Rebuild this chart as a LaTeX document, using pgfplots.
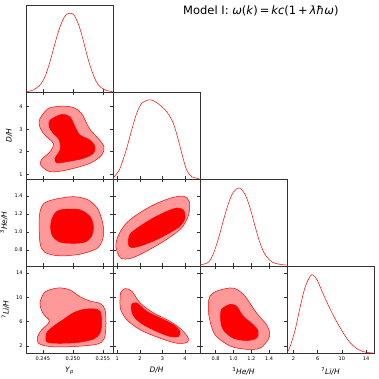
\documentclass[border=0pt]{standalone}
\usepackage{fontspec}
\setmainfont{DejaVu Sans}
\usepackage{pgfplots}
\pgfplotsset{compat=1.18}
\definecolor{cred}{HTML}{FF0000}
\definecolor{clight}{HTML}{FF9999}
\definecolor{frame}{HTML}{333333}
\pgfplotsset{
  corner/.style={scale only axis, width=87pt, height=87pt, anchor=north west,
    axis line style={draw=frame, line width=0.7pt},
    tick style={draw=frame, line width=0.5pt},
    major tick length=2.8pt, tick align=inside,
    tick label style={font=\fontsize{5}{6}\selectfont},
    /pgf/number format/assume math mode=true,
    label style={font=\fontsize{7.5}{8}\selectfont},
    xticklabels={}, yticklabels={},
  },
  diag/.style={corner, ymin=0, ymax=87, ytick=\empty, xtick pos=left},
  c95/.style={fill=clight, draw=cred, line width=0.5pt, smooth cycle},
  c68/.style={fill=cred, draw=cred, line width=0.5pt, smooth cycle},
  pdf/.style={draw=cred, line width=0.5pt, smooth, no marks},
  colYp/.style={xmin=0.2422, xmax=0.2567, xtick={0.245,0.25,0.255}},
  colD/.style={xmin=0.81, xmax=4.66, xtick={1,2,3,4}},
  colHe/.style={xmin=0.625, xmax=1.6, xtick={0.8,1.0,1.2,1.4}},
  colLi/.style={xmin=0.95, xmax=15.3, xtick={2,6,10,14}},
  rowD/.style={ymin=0.79, ymax=4.65, ytick={1,2,3,4}},
  rowHe/.style={ymin=0.62, ymax=1.59, ytick={0.8,1.0,1.2,1.4}},
  rowLi/.style={ymin=0.83, ymax=15.17, ytick={2,6,10,14}},
}
\begin{document}
\begin{tikzpicture}
\path[use as bounding box] (0,0) rectangle (378pt,379pt);

% ---- diagonal: Yp
\begin{axis}[diag, colYp, at={(26pt,374pt)}]
\addplot[pdf] coordinates {(0.24231,0.33) (0.24342,2) (0.24453,7) (0.24537,15.3) (0.2462,30.3) (0.24703,48.7) (0.24787,65.3) (0.2487,76) (0.24942,78.7) (0.2502,77) (0.25109,65.3) (0.25187,48.7) (0.25259,32) (0.25342,17) (0.25426,7) (0.25537,2) (0.25664,0.33)};
\end{axis}

% ---- Yp vs D/H
\begin{axis}[corner, colYp, rowD, at={(26pt,287pt)}, yticklabels={1,2,3,4}, ylabel={\textit{D/H}}]
\addplot[c95] coordinates {(0.24453,3.476) (0.24442,3.179) (0.24508,2.812) (0.24675,2.370) (0.2462,1.998) (0.24482,1.662) (0.24465,1.409) (0.2462,1.113) (0.24898,1.188) (0.25287,1.485) (0.25482,1.852) (0.2552,2.219) (0.25425,2.591) (0.25275,3.033) (0.25148,3.697) (0.25008,3.963) (0.24815,4.020) (0.24592,3.918)};
\addplot[c68] coordinates {(0.2462,3.400) (0.24815,3.653) (0.24953,3.547) (0.25037,3.104) (0.2512,2.737) (0.25287,2.516) (0.2537,2.219) (0.25342,1.927) (0.25175,1.706) (0.24898,1.556) (0.24732,1.511) (0.24703,1.706) (0.24787,2.073) (0.24775,2.516) (0.24675,2.812) (0.24608,3.104)};
\end{axis}

% ---- diagonal: D/H
\begin{axis}[diag, colD, at={(113pt,287pt)}]
\addplot[pdf] coordinates {(0.81,0.3) (0.869,2.33) (1.12,10.67) (1.415,30.67) (1.636,49) (1.857,65.67) (2.079,75.67) (2.373,79) (2.595,78.33) (2.89,74) (3.185,67.33) (3.48,55.67) (3.70,39) (3.893,22.33) (4.07,9) (4.29,2.33) (4.62,0.3)};
\end{axis}

% ---- Yp vs 3He/H
\begin{axis}[corner, colYp, rowHe, at={(26pt,200pt)}, yticklabels={0.8,1.0,1.2,1.4}, ylabel={\textsuperscript{3}\textit{He/H}}]
\addplot[c95] coordinates {(0.24442,1.173) (0.24509,1.312) (0.24703,1.364) (0.25009,1.393) (0.25259,1.356) (0.25425,1.246) (0.25509,1.063) (0.25498,0.917) (0.25398,0.814) (0.2512,0.752) (0.24787,0.733) (0.24537,0.770) (0.24453,0.880)};
\addplot[c68] coordinates {(0.24648,1.136) (0.24731,1.228) (0.24898,1.254) (0.2512,1.246) (0.25287,1.173) (0.25342,1.063) (0.25314,0.953) (0.25203,0.887) (0.25009,0.873) (0.24787,0.887) (0.24664,0.953) (0.24631,1.045)};
\end{axis}

% ---- D/H vs 3He/H
\begin{axis}[corner, colD, rowHe, at={(113pt,200pt)}]
\addplot[c95] coordinates {(0.943,0.825) (1.002,0.935) (1.341,1.082) (1.857,1.191) (2.595,1.301) (3.332,1.375) (3.922,1.400) (4.188,1.338) (4.158,1.191) (3.848,1.045) (3.185,0.917) (2.373,0.796) (1.636,0.708) (1.149,0.708)};
\addplot[c68] coordinates {(1.488,0.862) (1.562,0.972) (2.005,1.063) (2.595,1.155) (3.185,1.228) (3.627,1.265) (3.922,1.246) (3.996,1.155) (3.775,1.063) (3.185,0.972) (2.595,0.898) (2.005,0.843) (1.636,0.825)};
\end{axis}

% ---- diagonal: 3He/H
\begin{axis}[diag, colHe, at={(200pt,200pt)}]
\addplot[pdf] coordinates {(0.625,1) (0.718,3.67) (0.774,12) (0.830,27) (0.886,45.3) (0.942,62) (0.997,73.7) (1.064,78) (1.128,72) (1.184,58.7) (1.240,40.3) (1.295,23.7) (1.351,12) (1.426,4.33) (1.519,1.67) (1.593,1)};
\end{axis}

% ---- Yp vs 7Li/H
\begin{axis}[corner, colYp, rowLi, at={(26pt,113pt)}, yticklabels={2,6,10,14}, xticklabels={0.245,0.250,0.255}, ylabel={\textsuperscript{7}\textit{Li/H}}, xlabel={\textit{Y}\textsubscript{\textit{p}}}]
\addplot[c95] coordinates {(0.24426,2.44) (0.24414,3.55) (0.24481,4.66) (0.24609,6.05) (0.24498,7.44) (0.24453,9.11) (0.24537,10.89) (0.24759,11.55) (0.24953,11.22) (0.2512,10.11) (0.25287,9.39) (0.25453,9.0) (0.25537,8.0) (0.25553,5.22) (0.2552,3.11) (0.25398,2.27) (0.25009,1.89) (0.2462,1.89)};
\addplot[c68] coordinates {(0.24564,2.72) (0.24564,4.11) (0.24676,5.22) (0.24842,6.33) (0.25009,7.44) (0.25176,8.0) (0.25342,8.11) (0.25453,7.72) (0.25481,5.78) (0.25453,4.11) (0.25342,3.11) (0.25064,2.55) (0.24731,2.44)};
\end{axis}

% ---- D/H vs 7Li/H
\begin{axis}[corner, colD, rowLi, at={(113pt,113pt)}, xticklabels={1,2,3,4}, xlabel={\textit{D/H}}]
\addplot[c95] coordinates {(1.149,10.78) (1.341,11.44) (1.636,11.05) (2.005,9.11) (2.595,7.44) (3.332,6.05) (3.848,4.66) (4.143,3.275) (4.07,2.55) (3.627,2.44) (2.89,3.275) (2.005,4.66) (1.415,6.33) (1.149,8.0) (1.12,9.66)};
\addplot[c68] coordinates {(1.636,8.83) (1.857,9.11) (2.30,7.72) (2.89,6.61) (3.48,5.50) (3.775,4.39) (3.70,3.55) (3.332,3.55) (2.742,4.39) (2.152,5.50) (1.783,6.61) (1.636,7.72)};
\end{axis}

% ---- 3He/H vs 7Li/H
\begin{axis}[corner, colHe, rowLi, at={(200pt,113pt)}, xticklabels={0.8,1.0,1.2,1.4}, xlabel={\textsuperscript{3}\textit{He/H}}]
\addplot[c95] coordinates {(0.737,10.22) (0.811,11.05) (0.960,11.55) (1.035,11.33) (1.128,10.22) (1.258,7.44) (1.370,5.50) (1.407,4.11) (1.388,3.0) (1.295,1.61) (1.146,1.44) (0.960,2.0) (0.793,3.83) (0.729,6.61) (0.718,8.83)};
\addplot[c68] coordinates {(0.867,8.0) (0.960,8.83) (1.035,8.55) (1.109,6.89) (1.221,5.50) (1.277,4.39) (1.258,3.275) (1.146,2.89) (0.997,3.275) (0.886,4.66) (0.856,6.33)};
\end{axis}

% ---- diagonal: 7Li/H
\begin{axis}[diag, colLi, at={(287pt,113pt)}, xticklabels={2,6,10,14}, xlabel={\textsuperscript{7}\textit{Li/H}}]
\addplot[pdf] coordinates {(0.95,0.3) (1.45,6.33) (2.29,23) (3.13,46.33) (3.96,66.33) (4.80,77) (5.25,78) (5.92,73) (6.75,61.33) (7.87,46.33) (8.98,33) (10.10,21.33) (11.21,11.33) (12.61,3.67) (14.0,0.67) (15.12,0.1)};
\end{axis}

\node[anchor=base west, font=\fontsize{11.5}{13}\selectfont, inner sep=0pt] at (183pt,364pt)
  {Model I: \textit{ω}(\textit{k})\,=\,\textit{kc}(1\,+\,\textit{λħω})};
\end{tikzpicture}
\end{document}
